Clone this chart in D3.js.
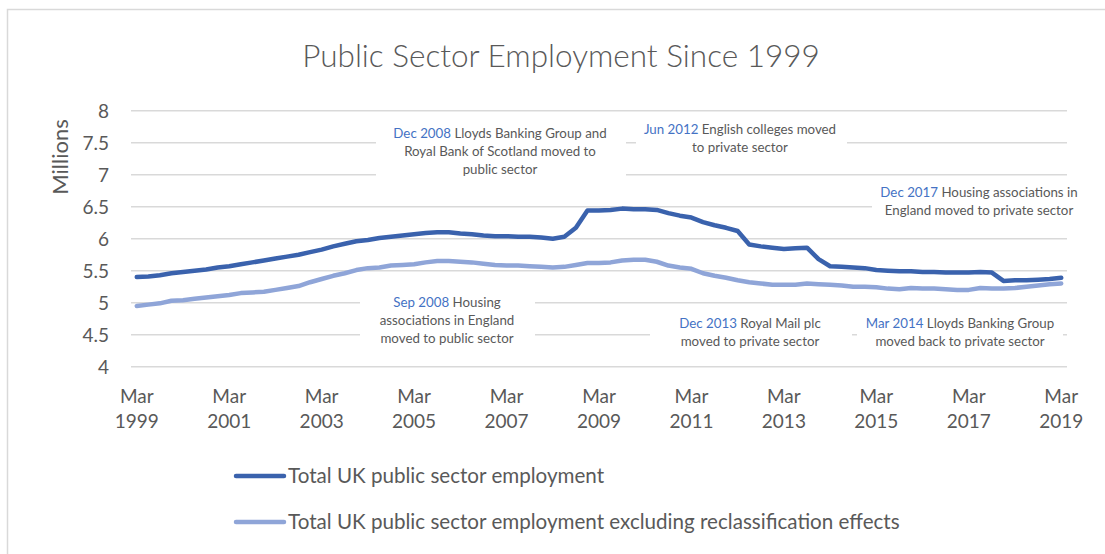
<!DOCTYPE html>
<html>
<head>
<meta charset="utf-8">
<script src="https://cdn.jsdelivr.net/npm/d3@7"></script>
<style>
  html, body { margin: 0; padding: 0; background: #fff; }
  svg { display: block; font-family: Lato, "Open Sans", sans-serif; }
</style>
</head>
<body>
<svg id="chart" width="1105" height="554"></svg>
<script>
// Quarterly public sector employment, millions, Mar 1999 – Mar 2019
const months = ["Mar", "Jun", "Sep", "Dec"];
const quarters = [];
for (let y = 1999; y <= 2019; y++) {
  for (const m of months) {
    if (y === 2019 && m !== "Mar") break;
    quarters.push(m + " " + y);
  }
}

const totalEmployment = [
  5.40, 5.41, 5.43, 5.46, 5.48, 5.50, 5.52, 5.55,
  5.57, 5.60, 5.63, 5.66, 5.69, 5.72, 5.75, 5.79,
  5.83, 5.88, 5.92, 5.96, 5.98, 6.01, 6.03, 6.05,
  6.07, 6.09, 6.10, 6.10, 6.08, 6.07, 6.05, 6.04,
  6.04, 6.03, 6.03, 6.02, 6.00, 6.03, 6.17, 6.44,
  6.44, 6.45, 6.47, 6.46, 6.46, 6.45, 6.40, 6.36,
  6.33, 6.26, 6.21, 6.17, 6.12, 5.91, 5.88, 5.86,
  5.84, 5.85, 5.86, 5.68, 5.57, 5.56, 5.55, 5.54,
  5.51, 5.50, 5.49, 5.49, 5.48, 5.48, 5.47, 5.47,
  5.47, 5.48, 5.47, 5.34, 5.35, 5.35, 5.36, 5.37,
  5.39
];

const excludingReclass = [
  4.95, 4.97, 4.99, 5.03, 5.04, 5.06, 5.08, 5.10,
  5.12, 5.15, 5.16, 5.17, 5.20, 5.23, 5.26, 5.32,
  5.37, 5.42, 5.46, 5.51, 5.54, 5.55, 5.58, 5.59,
  5.60, 5.63, 5.65, 5.65, 5.64, 5.63, 5.61, 5.59,
  5.58, 5.58, 5.57, 5.56, 5.55, 5.56, 5.59, 5.62,
  5.62, 5.63, 5.66, 5.67, 5.67, 5.64, 5.58, 5.55,
  5.53, 5.46, 5.42, 5.39, 5.35, 5.32, 5.30, 5.28,
  5.28, 5.28, 5.30, 5.29, 5.28, 5.27, 5.25, 5.25,
  5.24, 5.22, 5.21, 5.23, 5.22, 5.22, 5.21, 5.20,
  5.20, 5.23, 5.22, 5.22, 5.23, 5.25, 5.27, 5.29,
  5.30
];

const yTicks = [4, 4.5, 5, 5.5, 6, 6.5, 7, 7.5, 8];
const xTickLabels = ["Mar 1999", "Mar 2001", "Mar 2003", "Mar 2005", "Mar 2007",
                     "Mar 2009", "Mar 2011", "Mar 2013", "Mar 2015", "Mar 2017", "Mar 2019"];

const seriesNames = [
  "Total UK public sector employment",
  "Total UK public sector employment excluding reclassification effects"
];
const seriesColors = ["#3a62ad", "#8fa5d8"];

// Reclassification notes: date, description lines, text centre, first baseline, backing box
const notes = [
  { date: "Dec 2008", lines: ["Lloyds Banking Group and", "Royal Bank of Scotland moved to", "public sector"],
    cx: 500, y: 138, box: [376, 118, 626, 183] },
  { date: "Jun 2012", lines: ["English colleges moved", "to private sector"],
    cx: 740, y: 134, box: [636, 118, 847, 160] },
  { date: "Dec 2017", lines: ["Housing associations in", "England moved to private sector"],
    cx: 979, y: 197, box: [872, 185, 1090, 222] },
  { date: "Sep 2008", lines: ["Housing", "associations in England", "moved to public sector"],
    cx: 447, y: 307, box: [360, 292, 535, 350] },
  { date: "Dec 2013", lines: ["Royal Mail plc", "moved to private sector"],
    cx: 750, y: 328, box: [650, 312, 852, 352] },
  { date: "Mar 2014", lines: ["Lloyds Banking Group", "moved back to private sector"],
    cx: 960, y: 328, box: [857, 312, 1063, 352] }
];

const svg = d3.select("#chart");
const textColor = "#595959";
const dateColor = "#4472c4";
const gridColor = "#d9d9d9";

// Chart frame
svg.append("rect")
  .attr("x", 7.5).attr("y", 9.5)
  .attr("width", 1200).attr("height", 600)
  .attr("fill", "#fff").attr("stroke", gridColor).attr("stroke-width", 1.5);

const plotLeft = 131, plotRight = 1067;
const x = d3.scalePoint().domain(d3.range(quarters.length)).range([plotLeft, plotRight]).padding(0.5);
const y = d3.scaleLinear().domain([4, 8]).range([366.7, 110.7]);

// Title
svg.append("text")
  .attr("x", 561).attr("y", 67)
  .attr("text-anchor", "middle")
  .attr("fill", textColor)
  .attr("font-size", 31.5)
  .attr("font-weight", 300)
  .text("Public Sector Employment Since 1999");

// Gridlines
svg.append("g")
  .selectAll("line")
  .data(yTicks)
  .join("line")
  .attr("x1", plotLeft).attr("x2", plotRight)
  .attr("y1", d => y(d)).attr("y2", d => y(d))
  .attr("stroke", gridColor).attr("stroke-width", 1.5);

// Y axis labels
const yAxis = d3.axisLeft(y).tickValues(yTicks).tickSize(0).tickPadding(0).tickFormat(d3.format("~g"));
const yg = svg.append("g").attr("transform", "translate(109,0)").call(yAxis);
yg.select(".domain").remove();
yg.selectAll("text")
  .attr("fill", textColor)
  .attr("font-size", 19)
  .attr("font-family", "Lato, sans-serif")
  .attr("dy", "0.35em");

svg.append("text")
  .attr("transform", "translate(68,157) rotate(-90)")
  .attr("text-anchor", "middle")
  .attr("fill", textColor)
  .attr("font-size", 22)
  .text("Millions");

// X axis labels, every eighth quarter
const tickIdx = quarters.map((q, i) => i).filter(i => xTickLabels.includes(quarters[i]));
const xg = svg.append("g");
const xt = xg.selectAll("text")
  .data(tickIdx)
  .join("text")
  .attr("x", d => x(d))
  .attr("text-anchor", "middle")
  .attr("fill", textColor)
  .attr("font-size", 19);
xt.append("tspan").attr("x", d => x(d)).attr("y", 403).text(d => quarters[d].split(" ")[0]);
xt.append("tspan").attr("x", d => x(d)).attr("y", 428).text(d => quarters[d].split(" ")[1]);

// Note boxes mask gridlines behind their text
const noteG = svg.append("g");
noteG.selectAll("rect")
  .data(notes)
  .join("rect")
  .attr("x", d => d.box[0]).attr("y", d => d.box[1])
  .attr("width", d => d.box[2] - d.box[0]).attr("height", d => d.box[3] - d.box[1])
  .attr("fill", "#fff");

// Lines
const line = d3.line().x((d, i) => x(i)).y(d => y(d));
[totalEmployment, excludingReclass].forEach((series, k) => {
  svg.append("path")
    .datum(series)
    .attr("d", line)
    .attr("fill", "none")
    .attr("stroke", seriesColors[k])
    .attr("stroke-width", 4.5)
    .attr("stroke-linejoin", "round")
    .attr("stroke-linecap", "round");
});

// Note text
const lineGap = 18;
notes.forEach(n => {
  const t = noteG.append("text")
    .attr("text-anchor", "middle")
    .attr("font-size", 13.3)
    .attr("fill", textColor);
  n.lines.forEach((ln, j) => {
    const ts = t.append("tspan").attr("x", n.cx).attr("y", n.y + j * lineGap);
    if (j === 0) {
      ts.append("tspan").attr("fill", dateColor).text(n.date + " ");
      ts.append("tspan").text(ln);
    } else {
      ts.text(ln);
    }
  });
});

// Legend
const legend = svg.append("g");
seriesNames.forEach((name, k) => {
  const ly = 476 + k * 46;
  legend.append("line")
    .attr("x1", 236).attr("x2", 284)
    .attr("y1", ly).attr("y2", ly)
    .attr("stroke", seriesColors[k]).attr("stroke-width", 4.5)
    .attr("stroke-linecap", "round");
  legend.append("text")
    .attr("x", 288).attr("y", ly)
    .attr("dy", "0.35em")
    .attr("fill", textColor)
    .attr("font-size", 20.6)
    .text(name);
});
</script>
</body>
</html>
